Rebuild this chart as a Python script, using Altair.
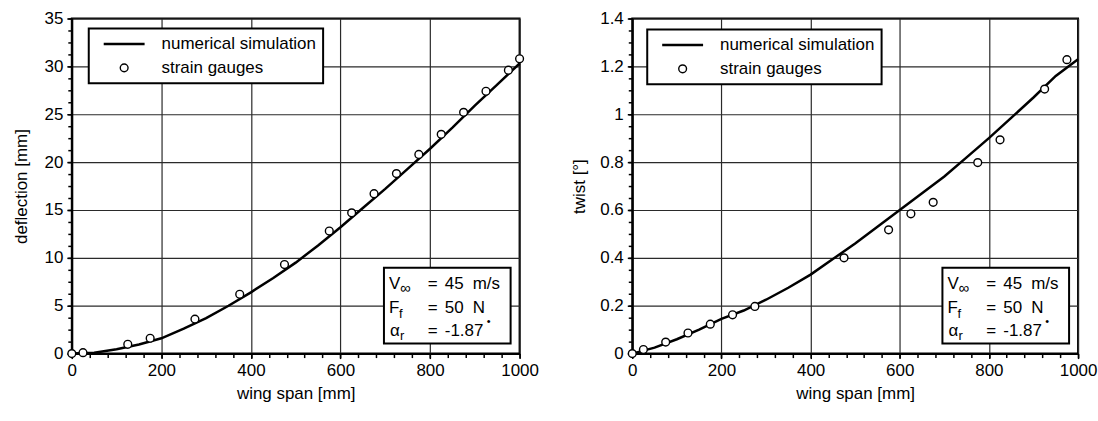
import altair as alt
import pandas as pd

FONT = "Liberation Sans, Arial, sans-serif"
FS = 17

# ---------------- data ----------------
series_names = ["numerical simulation", "strain gauges"]

sim_span = [0, 50, 100, 150, 200, 250, 300, 350, 400, 450, 500,
            550, 600, 650, 700, 750, 800, 850, 900, 950, 1000]
sim_deflection = [0, 0.1, 0.45, 0.95, 1.6, 2.6, 3.7, 5.0, 6.4, 7.9, 9.5,
                  11.3, 13.2, 15.2, 17.2, 19.3, 21.4, 23.6, 25.9, 28.1, 30.3]
sim_twist = [0, 0.025, 0.06, 0.10, 0.145, 0.18, 0.225, 0.275, 0.33, 0.395, 0.46,
             0.53, 0.60, 0.67, 0.74, 0.82, 0.90, 0.985, 1.07, 1.16, 1.23]

gauge_span_deflection = [0, 25, 125, 175, 275, 375, 475, 575, 625, 675, 725,
                         775, 825, 875, 925, 975, 1000]
gauge_deflection = [0, 0.1, 0.97, 1.6, 3.6, 6.2, 9.3, 12.8, 14.7, 16.7, 18.8,
                    20.8, 22.9, 25.2, 27.4, 29.6, 30.8]

gauge_span_twist = [0, 25, 75, 125, 175, 225, 275, 475, 575, 625, 675,
                    775, 825, 925, 975]
gauge_twist = [0, 0.017, 0.048, 0.086, 0.123, 0.162, 0.197, 0.40, 0.517, 0.584,
               0.632, 0.798, 0.893, 1.105, 1.228]

x_major_ticks = [0, 200, 400, 600, 800, 1000]
x_minor_ticks = [v for v in range(0, 1001, 40)]
defl_major_ticks = [0, 5, 10, 15, 20, 25, 30, 35]
defl_minor_ticks = [i * 1.25 for i in range(0, 29)]
twist_major_ticks = [0, 0.2, 0.4, 0.6, 0.8, 1, 1.2, 1.4]
twist_minor_ticks = [round(i * 0.05, 2) for i in range(0, 29)]

# annotation text: main symbol, subscript, value, unit
ann_rows = [("V", "\u221e", "45", "m/s"), ("F", "f", "50", "N"), ("\u03b1", "r", "-1.87", "")]

# ---------------- helpers ----------------
H = 336
LINE_SYM = "M-4.1,0H4.1"
CIRC_SYM = "M0.78,0A0.78,0.78 0 1,1 -0.78,0A0.78,0.78 0 1,1 0.78,0Z"
SYM_SIZE = 100
one = pd.DataFrame({"k": [0]})


def txt(s, x, y, size=FS, align="left"):
    return alt.Chart(one).mark_text(
        text=s, font=FONT, fontSize=size, align=align, baseline="alphabetic", color="black"
    ).encode(x=alt.value(x), y=alt.value(y))


def annotation(bx, by):
    box = alt.Chart(one).mark_rect(fill="white", stroke="black", strokeWidth=2).encode(
        x=alt.value(bx), x2=alt.value(bx + 127), y=alt.value(by), y2=alt.value(by + 76)
    )
    layers = [box]
    base_y = [21, 45, 68]
    sub_dy = [4, 5, 4]
    sub_dx = [16, 15, 16]
    sub_fs = [15, 13, 13]
    main_dx = [5, 5, 6]
    for (m, sub, val, unit), yy, sdy, sdx, sfs, mdx in zip(ann_rows, base_y, sub_dy, sub_dx,
                                                          sub_fs, main_dx):
        layers.append(txt(m, bx + mdx, by + yy))
        layers.append(txt(sub, bx + sdx, by + yy + sdy, size=sfs))
        layers.append(txt("=", bx + 44, by + yy))
        layers.append(txt(val, bx + 61, by + yy))
        if unit:
            layers.append(txt(unit, bx + 89, by + yy))
    layers.append(txt("\u2022", bx + 103, by + 57, size=11))
    return layers


def panel(sim_vals, g_span, g_vals, ytitle, ymax, ymajor, yminor, lab_ext, title_pad,
          width, leg_x, leg_y, box_x):
    sim = pd.DataFrame({"span": sim_span, "value": sim_vals})
    gauges = pd.DataFrame({"span": g_span, "value": g_vals, "series": series_names[1]})
    xs = alt.Scale(domain=[0, 1000], nice=False, zero=False)
    ys = alt.Scale(domain=[0, ymax], nice=False, zero=False)
    x_major = alt.Axis(values=x_major_ticks, title="wing span [mm]", orient="bottom", grid=True,
                       format="d", labelFlush=False, labelOverlap=False, tickSize=5,
                       labelPadding=4, titlePadding=7, domain=True)
    y_major = alt.Axis(values=ymajor, title=ytitle, orient="left", format="~g", grid=True,
                       labelFlush=False, labelOverlap=False, tickSize=5, labelPadding=4,
                       titlePadding=title_pad, minExtent=lab_ext, maxExtent=lab_ext, domain=True)
    x_minor = alt.Axis(values=x_minor_ticks, orient="bottom", title=None, labels=False,
                       grid=False, domain=False, tickSize=4)
    y_minor = alt.Axis(values=yminor, orient="left", title=None, labels=False,
                       grid=False, domain=False, tickSize=4)
    line = alt.Chart(sim).mark_line(color="black", strokeWidth=2.5).encode(
        x=alt.X("span:Q", scale=xs, axis=x_major),
        y=alt.Y("value:Q", scale=ys, axis=y_major),
    )
    legend = alt.Legend(title=None, orient="none", legendX=leg_x, legendY=leg_y, padding=7,
                        labelFont=FONT, labelFontSize=FS, labelColor="black", labelOffset=29,
                        labelLimit=400, labelExpr="datum.label + '\u00a0'",
                        symbolOffset=20, rowPadding=6, symbolSize=SYM_SIZE,
                        strokeColor="black", fillColor="white", symbolFillColor="white",
                        symbolStrokeColor="black", symbolOpacity=1)
    pts = alt.Chart(gauges).mark_point(size=SYM_SIZE, filled=False, fill="white", opacity=1,
                                       fillOpacity=1).encode(
        x=alt.X("span:Q", scale=xs, axis=x_minor),
        y=alt.Y("value:Q", scale=ys, axis=y_minor),
        color=alt.Color("series:N", scale=alt.Scale(domain=series_names, range=["black", "black"]),
                        legend=legend),
        shape=alt.Shape("series:N", scale=alt.Scale(domain=series_names, range=[LINE_SYM, CIRC_SYM]),
                        legend=legend),
        strokeWidth=alt.StrokeWidth("series:N", scale=alt.Scale(domain=series_names, range=[2.5, 1.4]),
                                    legend=legend),
    )
    layers = [line, pts] + annotation(box_x, 250)
    return alt.layer(*layers).resolve_axis(x="independent", y="independent").properties(
        width=width, height=H)


left = panel(sim_deflection, gauge_span_deflection, gauge_deflection, "deflection [mm]", 35,
             defl_major_ticks, defl_minor_ticks, 28, 13, 449, 17, 10, 313)
right = panel(sim_twist, gauge_span_twist, gauge_twist, "twist [°]", 1.4,
              twist_major_ticks, twist_minor_ticks, 33, 11, 447, 15, 11, 311)

chart = alt.hconcat(left, right, spacing=30).resolve_scale(
    x="independent", y="independent", color="independent", shape="independent",
    strokeWidth="independent"
).resolve_legend(color="independent", shape="independent", strokeWidth="independent").configure(
    padding={"left": 12, "top": 8, "right": 0, "bottom": 4}, font=FONT
).configure_view(stroke="black", strokeWidth=2).configure_axis(
    labelFont=FONT, labelFontSize=FS, labelColor="black", titleFont=FONT, titleFontSize=FS,
    titleFontWeight="normal", titleColor="black", tickColor="black", tickWidth=1.5,
    gridColor="#2a2a2a", gridWidth=1.2, gridOpacity=1, domainColor="black", domainWidth=2
).configure_legend(strokeWidth=2)

chart.save("out.html", embed_options={"renderer": "svg", "actions": False})
